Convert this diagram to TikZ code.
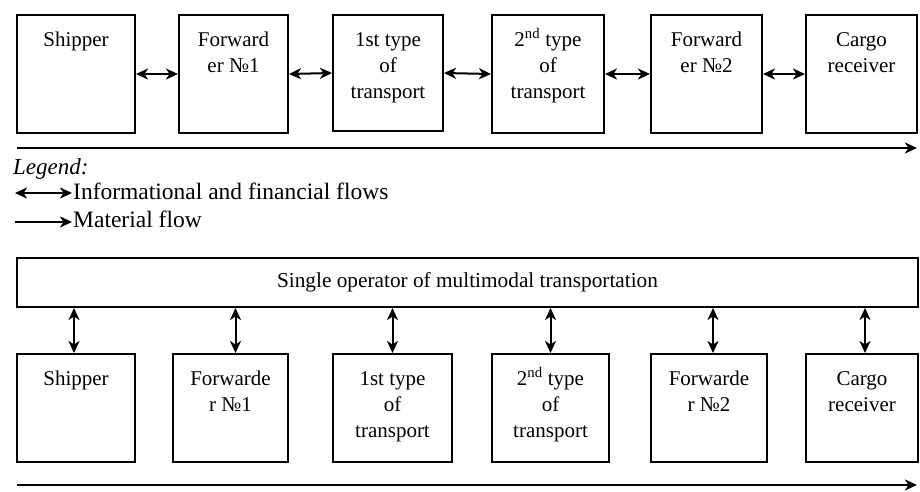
\documentclass[tikz,border=0pt]{standalone}
\usepackage{fontspec}
\setmainfont{Liberation Serif}
\usetikzlibrary{arrows.meta}
\tikzset{
  box/.style={draw, line width=2pt, inner sep=0pt, fill=white},
  boxtxt/.style={anchor=north, align=center, inner sep=0pt, font=\fontsize{21}{26}\selectfont},
  tip/.style={Stealth[length=12pt,width=11pt,inset=3.5pt]},
  flow/.style={line width=2pt, {Stealth[length=12pt,width=11pt,inset=3.5pt]}-{Stealth[length=12pt,width=11pt,inset=3.5pt]}},
  matflow/.style={line width=2pt, -{Stealth[length=12pt,width=11pt,inset=3.5pt]}},
  legtxt/.style={anchor=base west, inner sep=0pt, font=\fontsize{23.5}{27}\selectfont}
}
\newcommand\mybox[6]{%
  \node[box, minimum width={#4pt-#2pt}, minimum height={#5pt-#3pt}] (#1) at ({(#2+#4)/2},{(#3+#5)/2}) {};
  \node[boxtxt] (#1t) at ([yshift=-18pt]#1.north) {#6};
}
\begin{document}
\begin{tikzpicture}[x=1pt,y=-1pt]
\useasboundingbox (0,0) rectangle (920,491);
% top row
\mybox{ta}{17}{15}{135}{133}{Shipper}
\mybox{tb}{179}{15}{288}{133}{Forward\\er №1}
\mybox{tc}{333}{15}{443}{131}{1st type\\of\\transport}
\mybox{td}{492}{15}{604}{133}{2\smash{\textsuperscript{nd}} type\\of\\transport}
\mybox{te}{651}{15}{762}{133}{Forward\\er №2}
\mybox{tf}{806}{15}{917}{133}{Cargo\\receiver}
\draw[flow] (ta.east) -- (tb.west);
\draw[flow] (tb.east) -- (tc.west);
\draw[flow] (tc.east) -- (td.west);
\draw[flow] (td.east) -- (te.west);
\draw[flow] (te.east) -- (tf.west);
\coordinate (m1a) at (17,148);
\coordinate (m1b) at (917,148);
\draw[matflow] (m1a) -- (m1b);
% legend
\node[legtxt, font=\fontsize{23}{27}\selectfont\itshape] (leg) at (13,174) {Legend:};
\coordinate (l1a) at (15,193);
\coordinate (l1b) at (72,193);
\draw[flow] (l1a) -- (l1b);
\node[legtxt] (l1t) at (73,199) {Informational and financial flows};
\coordinate (l2a) at (15,222);
\coordinate (l2b) at (72,222);
\draw[matflow] (l2a) -- (l2b);
\node[legtxt] (l2t) at (73,227) {Material flow};
% bottom part
\node[box, minimum width=901pt, minimum height=49pt] (op) at (467.5,282.5) {};
\node[inner sep=0pt, font=\fontsize{21.3}{26}\selectfont] (opt) at (op.center) {Single operator of multimodal transportation};
\mybox{ba}{17}{354}{135}{462}{Shipper}
\mybox{bb}{173}{354}{288}{462}{Forwarde\\r №1}
\mybox{bc}{333}{354}{452}{462}{1st type\\of\\transport}
\mybox{bd}{492}{354}{609}{462}{2\smash{\textsuperscript{nd}} type\\of\\transport}
\mybox{be}{651}{354}{767}{462}{Forwarde\\r №2}
\mybox{bf}{806}{354}{918}{462}{Cargo\\receiver}
\draw[flow] ([xshift=-2pt]ba.north) -- ([xshift=-2pt]ba.north |- op.south);
\draw[flow] ([xshift=5pt]bb.north) -- ([xshift=5pt]bb.north |- op.south);
\draw[flow] (bc.north) -- (bc.north |- op.south);
\draw[flow] (bd.north) -- (bd.north |- op.south);
\draw[flow] ([xshift=4pt]be.north) -- ([xshift=4pt]be.north |- op.south);
\draw[flow] ([xshift=3pt]bf.north) -- ([xshift=3pt]bf.north |- op.south);
\coordinate (m2a) at (17,485);
\coordinate (m2b) at (917,485);
\draw[matflow] (m2a) -- (m2b);
\end{tikzpicture}
\end{document}
